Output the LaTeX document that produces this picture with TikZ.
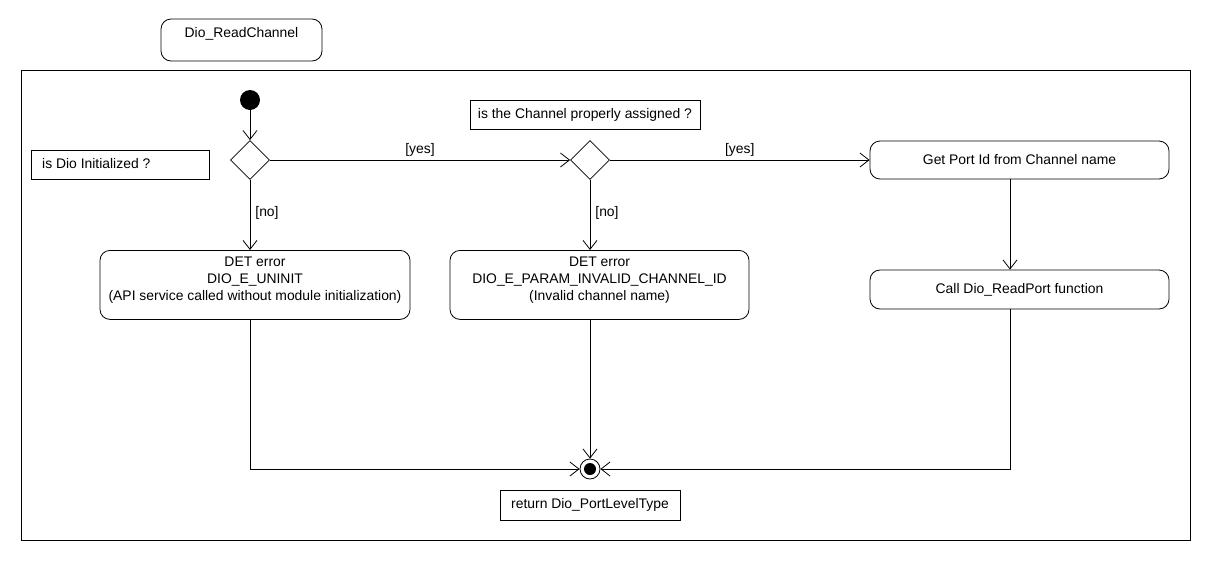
\documentclass[tikz,border=0pt]{standalone}
\usepackage{fontspec}
\setmainfont{Liberation Sans}
\usetikzlibrary{arrows.meta,shapes.geometric}
\begin{document}
\begin{tikzpicture}[x=1pt,y=-1pt,
  every node/.style={font=\fontsize{13.9}{17}\selectfont, inner sep=0pt},
  act/.style={draw, rounded corners=10pt, line width=0.8pt, minimum width=299pt, align=center},
  note/.style={draw, line width=0.8pt},
  dec/.style={draw, diamond, line width=0.8pt, minimum width=39pt, minimum height=39pt},
  flow/.style={draw, line width=0.8pt, -{Straight Barb[length=9pt,width=14pt,line width=0.8pt]}},
  lbl/.style={font=\fontsize{13.9}{17}\selectfont}
]
\useasboundingbox (0,0) rectangle (1210,560);
% title
\draw[line width=0.8pt, rounded corners=10pt] (161,19) rectangle (322,61);
\node (title) at (241.5,34) {Dio\_ReadChannel};
% frame
\draw[line width=0.8pt] (21,70) rectangle (1190,540);
% initial
\node[circle, fill=black, minimum size=20pt] (init) at (250,100) {};
% diamonds
\node[dec] (d1) at (250,160) {};
\node[dec] (d2) at (590,160) {};
% notes
\node[note, minimum width=178pt, minimum height=29pt] (n1) at (120,164.5) {};
\node[anchor=west] at (42,164) {is Dio Initialized ?};
\node[note, minimum width=230pt, minimum height=29pt] (n2) at (585,114.5) {is the Channel properly assigned ?};
\node[note, minimum width=180pt, minimum height=30pt] (n3) at (590,505) {return Dio\_PortLevelType};
% actions
\node[act, minimum height=38pt] (get) at (1019.5,160) {Get Port Id from Channel name};
\node[act, minimum height=39pt] (call) at (1019.5,289.5) {Call Dio\_ReadPort function};
\node[act, minimum width=310pt, minimum height=69pt, anchor=north] (e1) at (255,250) {};
\node[align=center, anchor=north] at (255,257) {DET error\\DIO\_E\_UNINIT\\(API service called without module initialization)};
\node[act, minimum height=69pt, anchor=north] (e2) at (599.5,250) {};
\node[align=center, anchor=north] at (599.5,257) {DET error\\DIO\_E\_PARAM\_INVALID\_CHANNEL\_ID\\(Invalid channel name)};
% final
\node[circle, draw, line width=0.8pt, minimum size=20pt] (fin) at (590,469) {};
\node[circle, fill=black, minimum size=12pt] at (590,469) {};
% flows
\draw[flow] (init) -- (d1);
\draw[flow] (d1) -- node[lbl, above=3pt] {[yes]} (d2);
\draw[flow] (d2) -- node[lbl, above=3pt] {[yes]} (get);
\draw[flow] (d1) -- node[lbl, right=5pt, pos=0.47] {[no]} (d1 |- e1.north);
\draw[flow] (d2) -- node[lbl, right=5pt, pos=0.47] {[no]} (d2 |- e2.north);
\draw[flow] (get.south -| 1010,0) -- (1010,0 |- call.north);
\draw[flow] (250,0 |- e1.south) -- (250,469) -- (fin);
\draw[flow] (590,0 |- e2.south) -- (fin);
\draw[flow] (1010,0 |- call.south) -- (1010,469) -- (fin);
\end{tikzpicture}
\end{document}
